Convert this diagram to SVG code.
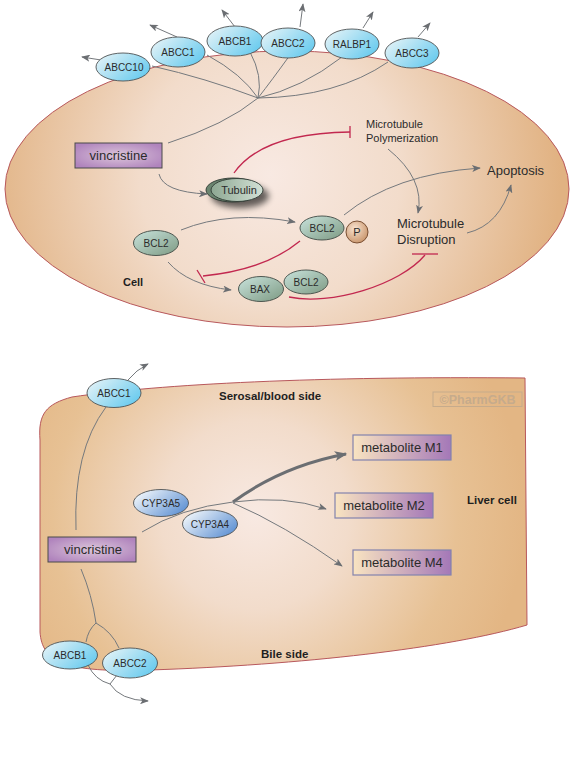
<svg xmlns="http://www.w3.org/2000/svg" width="573" height="761" viewBox="0 0 573 761">
<defs>
<radialGradient id="cellTop" cx="270" cy="175" r="290" gradientUnits="userSpaceOnUse">
<stop offset="0" stop-color="#f8e9e2"/>
<stop offset="0.45" stop-color="#f2dccb"/>
<stop offset="1" stop-color="#e1b282"/>
</radialGradient>
<radialGradient id="cellBot" cx="255" cy="515" r="270" gradientUnits="userSpaceOnUse">
<stop offset="0" stop-color="#f8e9e2"/>
<stop offset="0.35" stop-color="#f2dccb"/>
<stop offset="0.75" stop-color="#e7c194"/>
<stop offset="1" stop-color="#e3b684"/>
</radialGradient>
<linearGradient id="blue" x1="0" y1="0.2" x2="1" y2="0.8">
<stop offset="0" stop-color="#e2f2f7"/>
<stop offset="1" stop-color="#63c9ee"/>
</linearGradient>
<linearGradient id="cyp" x1="0" y1="0.2" x2="1" y2="0.8">
<stop offset="0" stop-color="#f4f8fb"/>
<stop offset="1" stop-color="#5a8ed2"/>
</linearGradient>
<linearGradient id="green" x1="0" y1="0" x2="1" y2="1">
<stop offset="0" stop-color="#c9e3dc"/>
<stop offset="1" stop-color="#7d9a83"/>
</linearGradient>
<linearGradient id="tub" x1="0" y1="0" x2="1" y2="0">
<stop offset="0" stop-color="#8da792"/>
<stop offset="1" stop-color="#d3e1d6"/>
</linearGradient>
<radialGradient id="pgrad" cx="0.4" cy="0.35" r="0.7">
<stop offset="0" stop-color="#f8e2cf"/>
<stop offset="1" stop-color="#c8946a"/>
</radialGradient>
<radialGradient id="vinc" cx="0.5" cy="0.5" r="0.6">
<stop offset="0" stop-color="#dcc6da"/>
<stop offset="1" stop-color="#b084bd"/>
</radialGradient>
<linearGradient id="meta" x1="0" y1="0" x2="1" y2="0">
<stop offset="0" stop-color="#f9e4c1"/>
<stop offset="1" stop-color="#a478b8"/>
</linearGradient>
<filter id="shadow" x="-50%" y="-50%" width="200%" height="200%">
<feGaussianBlur stdDeviation="3"/>
</filter>
<marker id="arr" viewBox="0 0 10 8" refX="9" refY="4" markerWidth="9" markerHeight="7" markerUnits="userSpaceOnUse" orient="auto">
<path d="M0,0 L10,4 L0,8 L2.5,4 Z" fill="#6b6e72"/>
</marker>
<marker id="arrBig" viewBox="0 0 10 8" refX="9" refY="4" markerWidth="15" markerHeight="10" markerUnits="userSpaceOnUse" orient="auto">
<path d="M0,0 L10,4 L0,8 L2.5,4 Z" fill="#6b6e72"/>
</marker>
</defs>
<style>
.cell{stroke:#b8585c;stroke-width:1}
.tp{fill:url(#blue);stroke:#4f5254;stroke-width:0.9}
.cy{fill:url(#cyp);stroke:#4f5254;stroke-width:0.9}
.gr{fill:url(#green);stroke:#3f4a44;stroke-width:0.9}
.lbl{font-family:"Liberation Sans",Arial,sans-serif;font-size:10px;fill:#2b2b2b;text-anchor:middle}
.big{font-family:"Liberation Sans",Arial,sans-serif;font-size:13px;fill:#2b2b2b}
.note{font-family:"Liberation Sans",Arial,sans-serif;font-size:11px;font-weight:bold;fill:#1f1f1f}
.ln{fill:none;stroke:#75797d;stroke-width:1}
.red{fill:none;stroke:#c2284f;stroke-width:1.3}
.box{stroke:#4a4a4a;stroke-width:1}
.mbox{fill:url(#meta);stroke:#8383ad;stroke-width:1.2}
</style>

<!-- cells -->
<ellipse id="cell-top" class="cell" cx="287" cy="189" rx="282" ry="138" fill="url(#cellTop)"/>
<path id="cell-liver" class="cell" fill="url(#cellBot)" d="M40,440 C38,414 46,404 72,397 C160,384 320,376 525,378 L527,625 C450,648 300,665 150,670 C65,673 42,662 40,632 Z"/>

<!-- connectors -->
<g id="connectors">
<path class="ln" marker-end="url(#arr)" d="M101,60 L82,57"/>
<path class="ln" marker-end="url(#arr)" d="M177,37 L150,25"/>
<path class="ln" marker-end="url(#arr)" d="M235,27 L222,10"/>
<path class="ln" marker-end="url(#arr)" d="M300,27 L303,4"/>
<path class="ln" marker-end="url(#arr)" d="M363,28 L373,12"/>
<path class="ln" marker-end="url(#arr)" d="M418,37 L430,23"/>
<path class="ln" d="M152,66 Q205,78 258,98"/>
<path class="ln" d="M207,55 Q242,74 258,98"/>
<path class="ln" d="M250,52 Q263,76 258,98"/>
<path class="ln" d="M290,55 Q272,80 258,98"/>
<path class="ln" d="M342,57 Q302,88 258,98"/>
<path class="ln" d="M388,62 Q337,97 258,98"/>
<path class="ln" d="M168,143 Q225,125 258,98"/>
<path class="ln" marker-end="url(#arr)" d="M159,174 Q163,192 207,194"/>
<path class="red" d="M234,173 Q262,133 350,132"/>
<path class="red" d="M350,126 L350,138"/>
<path class="ln" marker-end="url(#arr)" d="M388,149 Q425,179 418,213"/>
<path class="ln" marker-end="url(#arr)" d="M344,215 Q394,174 480,168"/>
<path class="ln" marker-end="url(#arr)" d="M467,233 Q500,225 511,185"/>
<path class="ln" marker-end="url(#arr)" d="M181,230 Q230,210 295,222"/>
<path class="ln" marker-end="url(#arr)" d="M168,262 Q188,285 231,290"/>
<path class="red" d="M300,241 Q265,270 203,276"/>
<path class="red" d="M197,270 L205,283"/>
<path class="red" d="M289,297 C330,306 400,285 425,255"/>
<path class="red" d="M412,254 L438,254"/>

<path class="ln" d="M76,530 Q73,451 106,407"/>
<path class="ln" marker-end="url(#arr)" d="M128,380 Q136,370 148,364"/>
<path class="ln" d="M142,532 Q180,508 233,502"/>
<path fill="none" stroke="#6b6e72" stroke-width="3" marker-end="url(#arrBig)" d="M233,502 Q282,466 346,454"/>
<path class="ln" marker-end="url(#arr)" d="M233,502 Q285,495 326,509"/>
<path class="ln" marker-end="url(#arr)" d="M233,503 Q284,525 342,566"/>
<path class="ln" d="M81,569 Q92,595 96,623"/>
<path class="ln" d="M96,623 Q88,630 86,642"/>
<path class="ln" d="M96,623 Q112,632 119,648"/>
<path class="ln" d="M88,665 Q95,680 110,684"/>
<path class="ln" d="M117,675 L110,684"/>
<path class="ln" marker-end="url(#arr)" d="M110,684 Q120,700 148,701"/>
</g>

<!-- top transporters -->
<g id="ABCC10"><ellipse class="tp" cx="123" cy="67" rx="27" ry="14"/><text class="lbl" x="124" y="71">ABCC10</text></g>
<g id="ABCC1"><ellipse class="tp" cx="178" cy="52" rx="27" ry="15"/><text class="lbl" x="178" y="56">ABCC1</text></g>
<g id="ABCB1"><ellipse class="tp" cx="235" cy="41" rx="28" ry="15"/><text class="lbl" x="235" y="45">ABCB1</text></g>
<g id="ABCC2"><ellipse class="tp" cx="288" cy="43" rx="27" ry="15"/><text class="lbl" x="288" y="47">ABCC2</text></g>
<g id="RALBP1"><ellipse class="tp" cx="352" cy="44" rx="27" ry="15"/><text class="lbl" x="352" y="48">RALBP1</text></g>
<g id="ABCC3"><ellipse class="tp" cx="412" cy="53" rx="27" ry="15"/><text class="lbl" x="412" y="57">ABCC3</text></g>

<g id="vincristine-top"><rect class="box" x="75" y="143" width="87" height="25" fill="url(#vinc)"/><text class="big" x="118.5" y="160" text-anchor="middle">vincristine</text></g>

<g id="tubulin">
<ellipse cx="240" cy="196" rx="29" ry="12" fill="#000" opacity="0.6" filter="url(#shadow)"/>
<ellipse cx="233" cy="190" rx="27" ry="12" fill="#6b8570" stroke="#2f3a33" stroke-width="0.9"/>
<ellipse cx="237" cy="190" rx="26" ry="11.5" fill="url(#tub)" stroke="#2f3a33" stroke-width="0.9"/>
<text class="lbl" x="239" y="194" style="font-size:11px">Tubulin</text>
</g>

<g id="mt-poly"><text class="big" style="font-size:11px" x="366" y="128">Microtubule</text><text class="big" style="font-size:11px" x="366" y="142">Polymerization</text></g>
<g id="mt-disr"><text class="big" x="397" y="228">Microtubule</text><text class="big" x="397" y="244">Disruption</text></g>
<g id="apoptosis"><text class="big" x="487" y="175">Apoptosis</text></g>

<g id="BCL2-left"><ellipse class="gr" cx="156" cy="243" rx="22.5" ry="12.5"/><text class="lbl" x="156" y="247">BCL2</text></g>
<g id="BCL2-P"><ellipse class="gr" cx="322" cy="228" rx="22" ry="12"/><text class="lbl" x="322" y="232">BCL2</text>
<circle cx="357" cy="232" r="11" fill="url(#pgrad)" stroke="#7a4f33" stroke-width="1"/><text class="lbl" x="357" y="236" style="font-size:11px">P</text></g>
<g id="BAX"><ellipse class="gr" cx="261" cy="289" rx="22.5" ry="12.5"/><text class="lbl" x="260" y="293">BAX</text></g>
<g id="BCL2-complex"><ellipse class="gr" cx="306" cy="282" rx="22" ry="12"/><text class="lbl" x="306" y="286">BCL2</text></g>
<text class="note" x="123" y="286">Cell</text>

<!-- bottom -->
<text class="note" x="219" y="400" style="font-size:11.5px">Serosal/blood side</text>
<text class="note" x="261" y="658" style="font-size:11.5px">Bile side</text>
<text class="note" x="467" y="504" style="font-size:11.5px">Liver cell</text>
<g id="watermark"><rect x="433" y="392" width="89" height="14.5" fill="none" stroke="#c6ab8c" stroke-width="1"/><text x="477.5" y="404" text-anchor="middle" font-family="Liberation Sans, Arial, sans-serif" font-size="12.5px" font-weight="bold" fill="#c6ab8c">©PharmGKB</text></g>

<g id="ABCC1-b"><ellipse class="tp" cx="114" cy="393" rx="27" ry="14.5"/><text class="lbl" x="114" y="397">ABCC1</text></g>
<g id="CYP3A5"><ellipse class="cy" cx="161" cy="503" rx="27.5" ry="13.5"/><text class="lbl" x="161" y="507">CYP3A5</text></g>
<g id="CYP3A4"><ellipse class="cy" cx="210" cy="524" rx="27.5" ry="14"/><text class="lbl" x="210" y="528">CYP3A4</text></g>
<g id="vincristine-bot"><rect class="box" x="48" y="537" width="88" height="25" fill="url(#vinc)"/><text class="big" x="93" y="554" text-anchor="middle">vincristine</text></g>
<g id="M1"><rect class="mbox" x="353" y="435" width="98" height="25"/><text class="big" x="402" y="452" text-anchor="middle">metabolite M1</text></g>
<g id="M2"><rect class="mbox" x="335" y="493" width="98" height="25"/><text class="big" x="384" y="510" text-anchor="middle">metabolite M2</text></g>
<g id="M4"><rect class="mbox" x="353" y="550" width="98" height="25"/><text class="big" x="402" y="567" text-anchor="middle">metabolite M4</text></g>
<g id="ABCB1-b"><ellipse class="tp" cx="70" cy="655" rx="27.5" ry="14"/><text class="lbl" x="70" y="659">ABCB1</text></g>
<g id="ABCC2-b"><ellipse class="tp" cx="130" cy="663" rx="27.5" ry="15"/><text class="lbl" x="130" y="667">ABCC2</text></g>
</svg>
